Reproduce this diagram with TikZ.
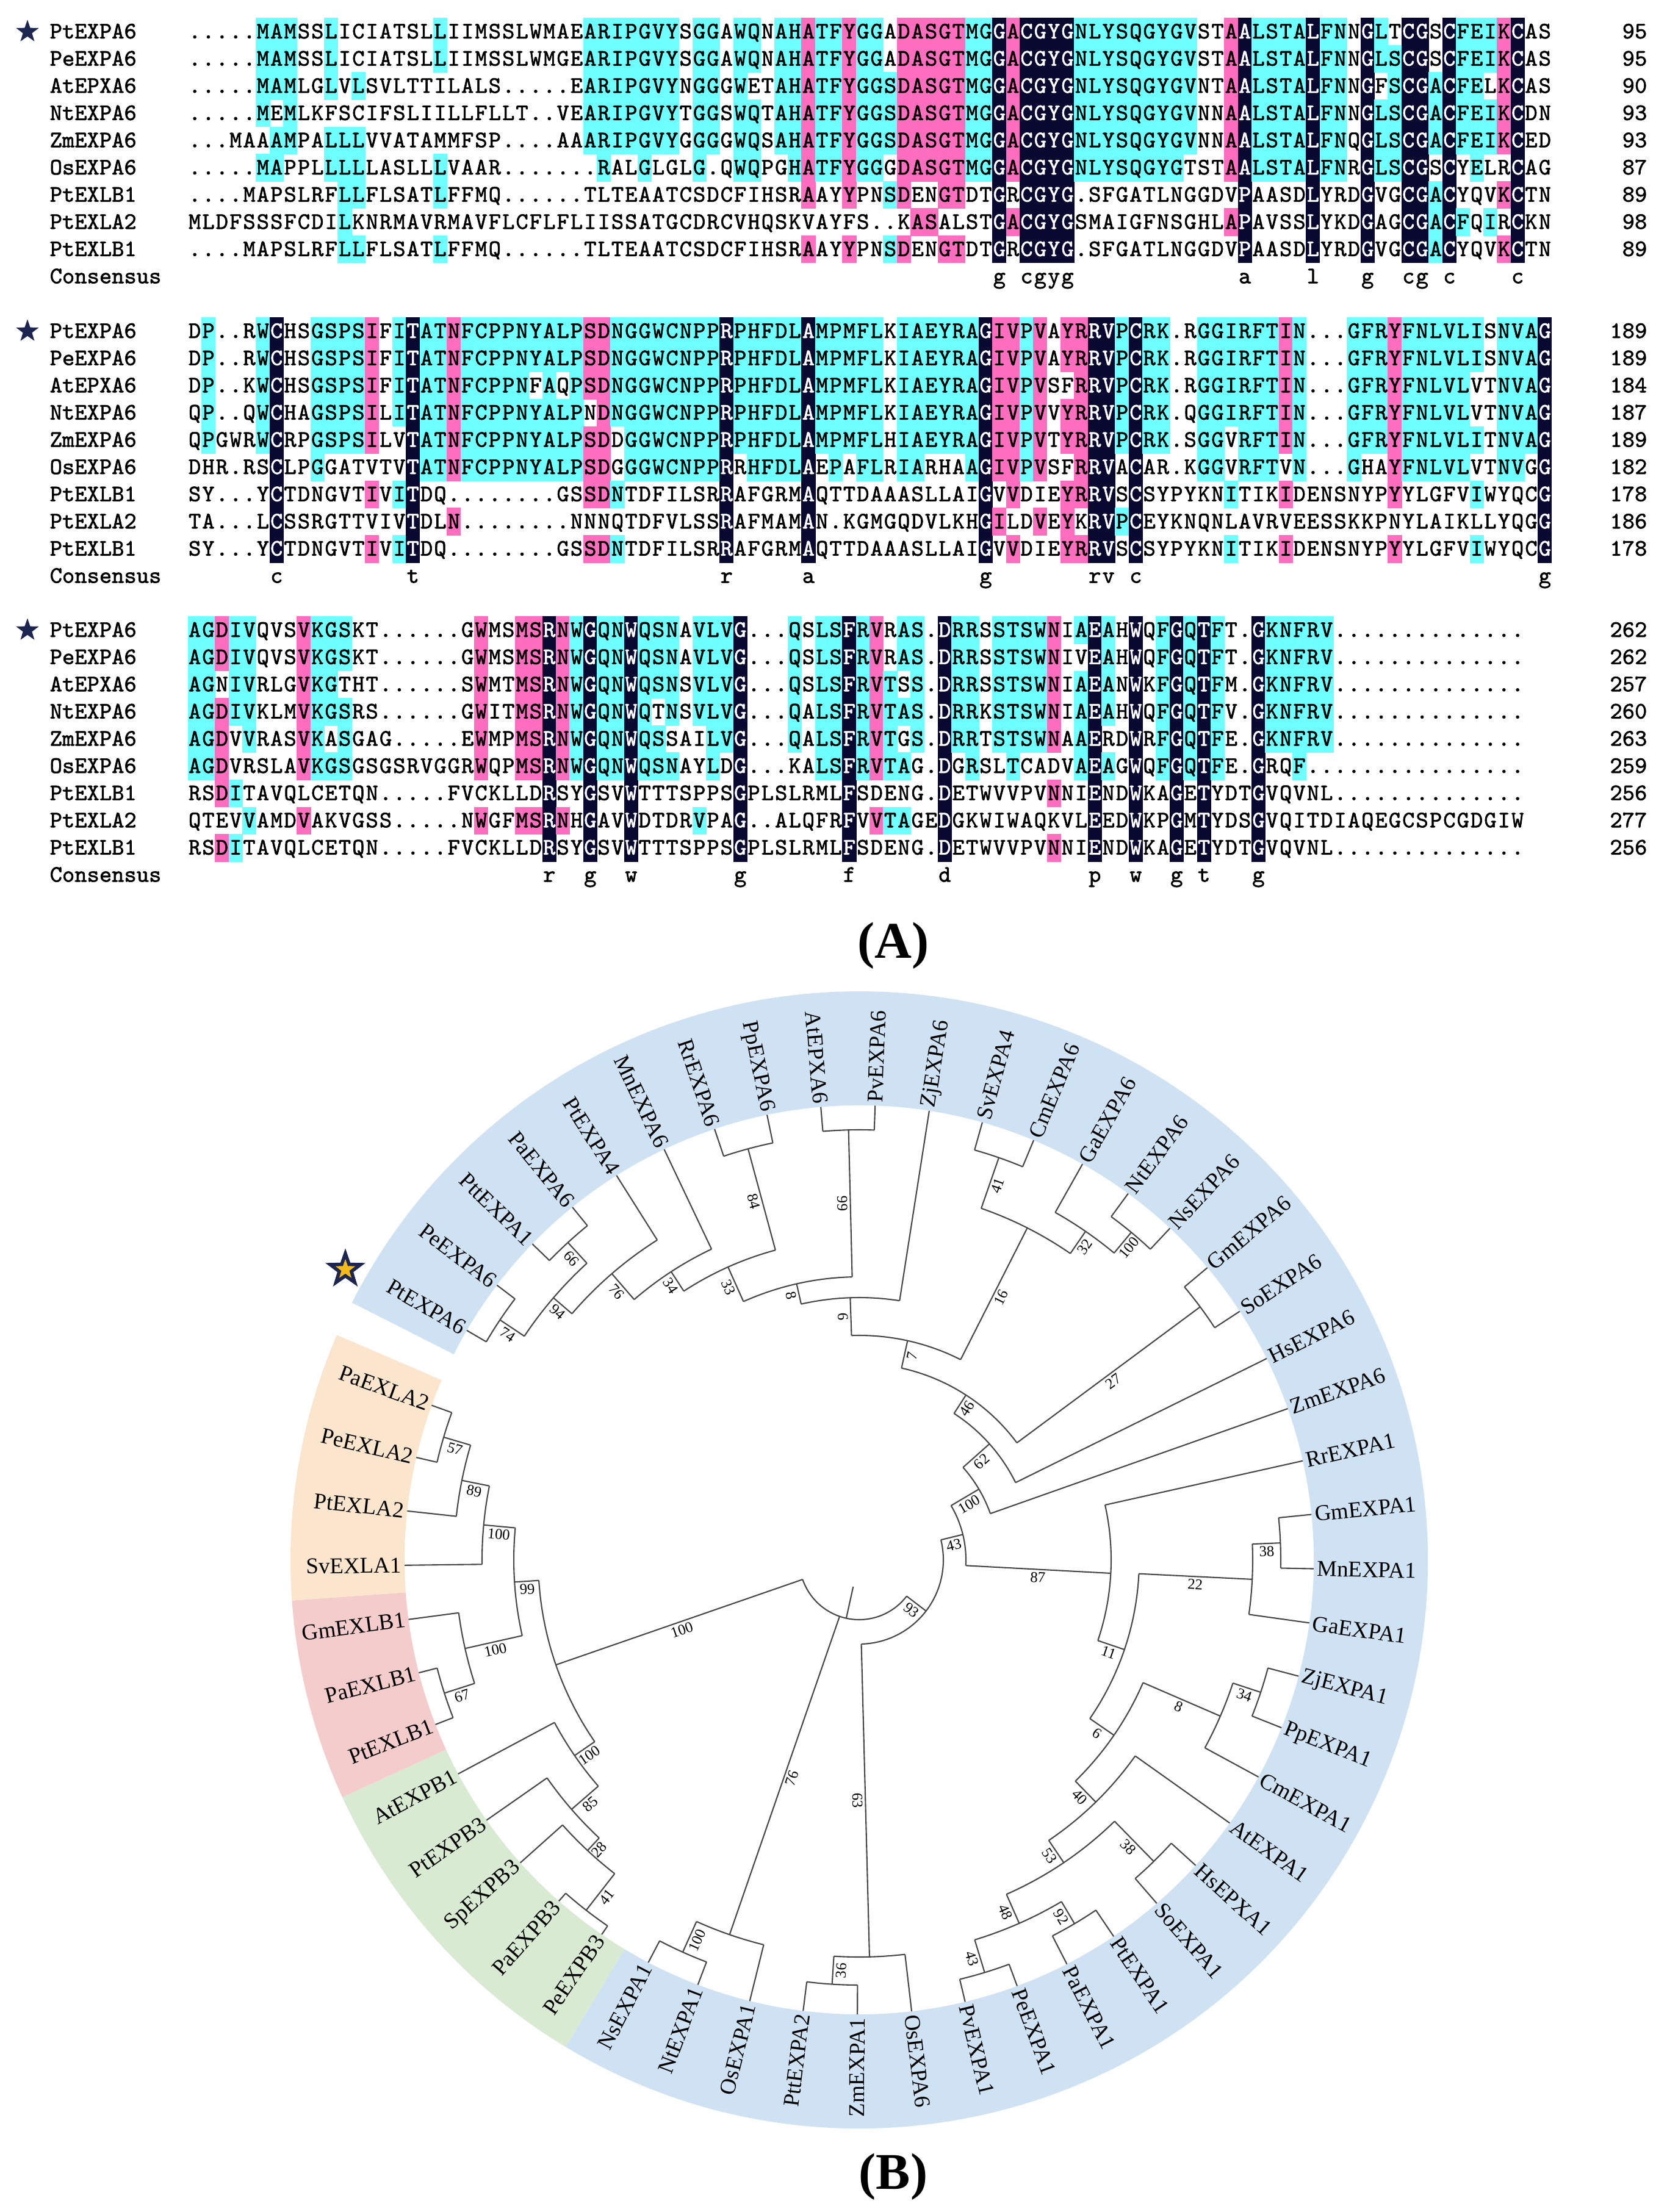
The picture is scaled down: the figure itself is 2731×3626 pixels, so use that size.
\documentclass[tikz,border=0pt]{standalone}
\usepackage{fontspec}
\setmainfont{Liberation Serif}
\newfontfamily\alnfont{Latin Modern Mono}[FakeBold=1.6]
\usetikzlibrary{shapes.geometric}

\definecolor{cyanhl}{RGB}{110,255,255}
\definecolor{pinkhl}{RGB}{255,110,190}
\definecolor{navyhl}{RGB}{8,8,48}
\definecolor{starnavy}{RGB}{28,38,80}
\definecolor{stargold}{RGB}{246,186,24}
\definecolor{bandblue}{RGB}{207,226,243}
\definecolor{bandgreen}{RGB}{217,234,211}
\definecolor{bandpink}{RGB}{244,204,204}
\definecolor{bandorange}{RGB}{252,229,205}

% alignment grid, in reference pixels
\newcommand\seqx{308}
\newcommand\cw{22.35}
\newcommand\rh{44.6}

\newcommand\AlnFill[4]{%
  \fill[#4] ({\seqx+(#1-1)*\cw-0.4},{#3+(#2-1.5)*\rh-0.4}) rectangle ({\seqx+#1*\cw+0.4},{#3+(#2-0.5)*\rh+0.4});}
\newcommand\AlnChar[5]{%
  \node[res, text=#4] at ({\seqx+(#1-0.5)*\cw},{#3+(#2-1)*\rh+11}) {#5};}

\ExplSyntaxOn
\int_new:N \l_aln_cnt_int
\tl_new:N \l_aln_col_tl
\tl_new:N \l_aln_cons_tl
\prop_new:N \l_aln_cons_prop
\int_step_inline:nn {9}
  { \tl_new:c { l_aln_row_#1_tl } \tl_new:c { l_aln_ch_#1_tl } }

\NewDocumentCommand \AlnRows { m }
  {
    \int_zero:N \l_aln_cnt_int
    \clist_map_inline:nn {#1}
      {
        \int_incr:N \l_aln_cnt_int
        \tl_set:cx { l_aln_row_ \int_use:N \l_aln_cnt_int _tl } { \tl_to_str:n {##1} }
      }
  }

% #1 top row y, #2 columns, #3 consensus col=letter
\NewDocumentCommand \AlnBlock { m m m }
  {
    \prop_set_from_keyval:Nn \l_aln_cons_prop {#3}
    \int_step_variable:nNn {#2} \l_aln_col_tl
      {
        \int_step_inline:nn {9}
          {
            \tl_set:cx { l_aln_ch_##1_tl }
              { \exp_args:Nc \str_item:Nn { l_aln_row_##1_tl } { \l_aln_col_tl } }
          }
        \exp_args:NNV \prop_get:NnNTF \l_aln_cons_prop \l_aln_col_tl \l_aln_cons_tl
          {
            \int_step_inline:nn {9}
              {
                \AlnFill { \l_aln_col_tl } {##1} {#1} {navyhl}
                \AlnChar { \l_aln_col_tl } {##1} {#1} {white} { \tl_use:c { l_aln_ch_##1_tl } }
              }
            \AlnChar { \l_aln_col_tl } {10} {#1} {black} { \l_aln_cons_tl }
          }
          {
            \int_step_inline:nn {9}
              {
                \int_zero:N \l_aln_cnt_int
                \str_if_eq:eeF { \tl_use:c { l_aln_ch_##1_tl } } { . }
                  {
                    \int_step_inline:nn {9}
                      {
                        \str_if_eq:eeT { \tl_use:c { l_aln_ch_##1_tl } } { \tl_use:c { l_aln_ch_####1_tl } }
                          { \int_incr:N \l_aln_cnt_int }
                      }
                  }
                \int_compare:nNnTF \l_aln_cnt_int > 6
                  { \AlnFill { \l_aln_col_tl } {##1} {#1} {pinkhl} }
                  {
                    \int_compare:nNnT \l_aln_cnt_int > 4
                      { \AlnFill { \l_aln_col_tl } {##1} {#1} {cyanhl} }
                  }
                \AlnChar { \l_aln_col_tl } {##1} {#1} {black} { \tl_use:c { l_aln_ch_##1_tl } }
              }
          }
      }
  }
\ExplSyntaxOff

% tree helpers
\newcommand\lf[1]{\csname lf#1\endcsname}
\newcommand\nd[1]{\csname nd#1\endcsname}
\newcommand\band[3]{\fill[#1] (#2:745) arc[start angle=#2, end angle=#3, radius=745] -- (#3:932) arc[start angle=#3, end angle=#2, radius=932] -- cycle;}
% #1 name, #2 radius, #3 parent radius, #4 bootstrap, #5/#6 child angle/radius, #7/#8 child angle/radius
\newcommand\clade[8]{%
  \pgfmathsetmacro\cang{(#5+#7)/2}%
  \expandafter\xdef\csname nd#1\endcsname{\cang}%
  \draw[branch] (#5:#2) arc[start angle=#5, end angle=#7, radius=#2];
  \draw[branch] (#5:#2) -- (#5:#6);
  \draw[branch] (#7:#2) -- (#7:#8);
  \pgfmathsetmacro\brad{(#2+#3)/2}%
  \pgfmathsetmacro\brot{cos(\cang)>=0 ? \cang : \cang-180}%
  \node[boot, rotate=\brot] (bs#1) at (\cang:\brad) {#4};
}

\begin{document}
\begin{tikzpicture}[x=0.1mm, y=-0.1mm,
  res/.style={font=\alnfont\fontsize{11}{12}\selectfont, inner sep=0pt, anchor=base},
  seqname/.style={res, anchor=base west},
  seqnum/.style={res, anchor=base east},
  alnstar/.style={star, star points=5, star point ratio=2.5, fill=starnavy, inner sep=0pt, minimum size=3.9mm},
  branch/.style={line width=0.6pt, draw=black!72},
  boot/.style={font=\fontsize{7}{8}\selectfont, inner sep=1.2pt, anchor=north},
  leaf/.style={font=\fontsize{10.5}{12}\selectfont, inner sep=0pt},
  panel/.style={font=\bfseries\fontsize{24}{28}\selectfont, inner sep=0pt},
]
\useasboundingbox (0,0) rectangle (2731,3626);
\fill[white] (0,0) rectangle (2731,3626);

% (A) alignment
\AlnRows{
  .....MAMSSLICIATSLLIIMSSLWMAEARIPGVYSGGAWQNAHATFYGGADASGTMGGACGYGNLYSQGYGVSTAALSTALFNNGLTCGSCFEIKCAS,
  .....MAMSSLICIATSLLIIMSSLWMGEARIPGVYSGGAWQNAHATFYGGADASGTMGGACGYGNLYSQGYGVSTAALSTALFNNGLSCGSCFEIKCAS,
  .....MAMLGLVLSVLTTILALS.....EARIPGVYNGGGWETAHATFYGGSDASGTMGGACGYGNLYSQGYGVNTAALSTALFNNGFSCGACFELKCAS,
  .....MEMLKFSCIFSLIILLFLLT..VEARIPGVYTGGSWQTAHATFYGGSDASGTMGGACGYGNLYSQGYGVNNAALSTALFNNGLSCGACFEIKCDN,
  ...MAAAMPALLLVVATAMMFSP....AAARIPGVYGGGGWQSAHATFYGGSDASGTMGGACGYGNLYSQGYGVNNAALSTALFNQGLSCGACFEIKCED,
  .....MAPPLLLLLASLLLVAAR.......RALGLGLG.QWQPGHATFYGGGDASGTMGGACGYGNLYSQGYGTSTAALSTALFNRGLSCGSCYELRCAG,
  ....MAPSLRFLLFLSATLFFMQ......TLTEAATCSDCFIHSRAAYYPNSDENGTDTGRCGYG.SFGATLNGGDVPAASDLYRDGVGCGACYQVKCTN,
  MLDFSSSFCDILKNRMAVRMAVFLCFLFLIISSATGCDRCVHQSKVAYFS..KASALSTGACGYGSMAIGFNSGHLAPAVSSLYKDGAGCGACFQIRCKN,
  ....MAPSLRFLLFLSATLFFMQ......TLTEAATCSDCFIHSRAAYYPNSDENGTDTGRCGYG.SFGATLNGGDVPAASDLYRDGVGCGACYQVKCTN}
\AlnBlock{52}{100}{60=g,62=c,63=g,64=y,65=g,78=a,83=l,87=g,90=c,91=g,93=c,98=c}

\AlnRows{
  DP..RWCHSGSPSIFITATNFCPPNYALPSDNGGWCNPPRPHFDLAMPMFLKIAEYRAGIVPVAYRRVPCRK.RGGIRFTIN...GFRYFNLVLISNVAG,
  DP..RWCHSGSPSIFITATNFCPPNYALPSDNGGWCNPPRPHFDLAMPMFLKIAEYRAGIVPVAYRRVPCRK.RGGIRFTIN...GFRYFNLVLISNVAG,
  DP..KWCHSGSPSIFITATNFCPPNFAQPSDNGGWCNPPRPHFDLAMPMFLKIAEYRAGIVPVSFRRVPCRK.RGGIRFTIN...GFRYFNLVLVTNVAG,
  QP..QWCHAGSPSILITATNFCPPNYALPNDNGGWCNPPRPHFDLAMPMFLKIAEYRAGIVPVVYRRVPCRK.QGGIRFTIN...GFRYFNLVLVTNVAG,
  QPGWRWCRPGSPSILVTATNFCPPNYALPSDDGGWCNPPRPHFDLAMPMFLHIAEYRAGIVPVTYRRVPCRK.SGGVRFTIN...GFRYFNLVLITNVAG,
  DHR.RSCLPGGATVTVTATNFCPPNYALPSDGGGWCNPPRRHFDLAEPAFLRIARHAAGIVPVSFRRVACAR.KGGVRFTVN...GHAYFNLVLVTNVGG,
  SY...YCTDNGVTIVITDQ........GSSDNTDFILSRRAFGRMAQTTDAAASLLAIGVVDIEYRRVSCSYPYKNITIKIDENSNYPYYLGFVIWYQCG,
  TA...LCSSRGTTVIVTDLN........NNNQTDFVLSSRAFMAMAN.KGMGQDVLKHGILDVEYKRVPCEYKNQNLAVRVEESSKKPNYLAIKLLYQGG,
  SY...YCTDNGVTIVITDQ........GSSDNTDFILSRRAFGRMAQTTDAAASLLAIGVVDIEYRRVSCSYPYKNITIKIDENSNYPYYLGFVIWYQCG}
\AlnBlock{543}{100}{7=c,17=t,40=r,46=a,59=g,67=r,68=v,70=c,100=g}

\AlnRows{
  AGDIVQVSVKGSKT......GWMSMSRNWGQNWQSNAVLVG...QSLSFRVRAS.DRRSSTSWNIAEAHWQFGQTFT.GKNFRV..............,
  AGDIVQVSVKGSKT......GWMSMSRNWGQNWQSNAVLVG...QSLSFRVRAS.DRRSSTSWNIVEAHWQFGQTFT.GKNFRV..............,
  AGNIVRLGVKGTHT......SWMTMSRNWGQNWQSNSVLVG...QSLSFRVTSS.DRRSSTSWNIAEANWKFGQTFM.GKNFRV..............,
  AGDIVKLMVKGSRS......GWITMSRNWGQNWQTNSVLVG...QALSFRVTAS.DRRKSTSWNIAEAHWQFGQTFV.GKNFRV..............,
  AGDVVRASVKASGAG.....EWMPMSRNWGQNWQSSAILVG...QALSFRVTGS.DRRTSTSWNAAERDWRFGQTFE.GKNFRV..............,
  AGDVRSLAVKGSGSGSRVGGRWQPMSRNWGQNWQSNAYLDG...KALSFRVTAG.DGRSLTCADVAEAGWQFGQTFE.GRQF................,
  RSDITAVQLCETQN.....FVCKLLDRSYGSVWTTTSPPSGPLSLRMLFSDENG.DETWVVPVNNIENDWKAGETYDTGVQVNL..............,
  QTEVVAMDVAKVGSS.....NWGFMSRNHGAVWDTDRVPAG..ALQFRFVVTAGEDGKWIWAQKVLEEDWKPGMTYDSGVQITDIAQEGCSPCGDGIW,
  RSDITAVQLCETQN.....FVCKLLDRSYGSVWTTTSPPSGPLSLRMLFSDENG.DETWVVPVNNIENDWKAGETYDTGVQVNL..............}
\AlnBlock{1033}{98}{27=r,30=g,33=w,41=g,49=f,56=d,67=p,70=w,73=g,75=t,79=g}

\foreach \by/\nums [count=\b] in {52/{95,95,90,93,93,87,89,98,89},
    543/{189,189,184,187,189,182,178,186,178},
    1033/{262,262,257,260,263,259,256,277,256}}{
  \node[alnstar] (star\b) at (45,\by) {};
  \foreach \nm [count=\ri] in {PtEXPA6,PeEXPA6,AtEPXA6,NtEXPA6,ZmEXPA6,OsEXPA6,PtEXLB1,PtEXLA2,PtEXLB1,Consensus}
    \node[seqname] (name\b-\ri) at (81,{\by+(\ri-1)*\rh+11}) {\nm};
  \foreach \n [count=\ri] in \nums
    \node[seqnum] (num\b-\ri) at (2700,{\by+(\ri-1)*\rh+11}) {\n};
}
\node[panel] (panelA) at (1464,1550) {(A)};

% (B) circular tree
\begin{scope}[shift={(1408,2557)}, y=0.1mm]
  \band{bandblue}{153.1}{-121.07}
  \band{bandgreen}{-121.07}{-155.34}
  \band{bandpink}{-155.34}{-175.9}
  \band{bandorange}{-175.9}{-203.3}

  \foreach \i in {1,...,52}{%
    \pgfmathsetmacro\lfa{149.67-6.854*(\i-1)}%
    \expandafter\xdef\csname lf\i\endcsname{\lfa}}

  % EXPA6 side
  \clade{A74}{708}{660}{74}{\lf{1}}{745}{\lf{2}}{745}
  \clade{A66}{706}{660}{66}{\lf{3}}{745}{\lf{4}}{745}
  \clade{A94}{660}{620}{94}{\nd{A74}}{708}{\nd{A66}}{706}
  \clade{A76}{620}{564}{76}{\nd{A94}}{660}{\lf{5}}{745}
  \clade{A34}{564}{526}{34}{\nd{A76}}{620}{\lf{6}}{745}
  \clade{A84}{698}{526}{84}{\lf{7}}{745}{\lf{8}}{745}
  \clade{A33}{526}{464}{33}{\nd{A34}}{564}{\nd{A84}}{698}
  \clade{A99}{705}{464}{99}{\lf{9}}{745}{\lf{10}}{745}
  \clade{A8}{464}{430}{8}{\nd{A33}}{526}{\nd{A99}}{705}
  \clade{A6}{430}{368}{6}{\nd{A8}}{464}{\lf{11}}{745}
  \clade{A41}{698}{610}{41}{\lf{12}}{745}{\lf{13}}{745}
  \clade{A100}{698}{654}{100}{\lf{15}}{745}{\lf{16}}{745}
  \clade{A32}{654}{610}{32}{\lf{14}}{745}{\nd{A100}}{698}
  \clade{A16}{610}{368}{16}{\nd{A41}}{698}{\nd{A32}}{654}
  \clade{A7}{368}{322}{7}{\nd{A6}}{430}{\nd{A16}}{610}
  \clade{A27}{696}{322}{27}{\lf{17}}{745}{\lf{18}}{745}
  \clade{A46}{322}{286}{46}{\nd{A7}}{368}{\nd{A27}}{696}
  \clade{A62}{286}{228}{62}{\nd{A46}}{322}{\lf{19}}{745}
  \clade{A100b}{228}{175}{100}{\nd{A62}}{286}{\lf{20}}{745}
  % EXPA1 side
  \clade{B38}{691}{645}{38}{\lf{22}}{745}{\lf{23}}{745}
  \clade{B22}{645}{459}{22}{\nd{B38}}{691}{\lf{24}}{745}
  \clade{B34}{693}{645}{34}{\lf{25}}{745}{\lf{26}}{745}
  \clade{B8}{645}{507}{8}{\nd{B34}}{693}{\lf{27}}{745}
  \clade{B38b}{691}{599}{38}{\lf{29}}{745}{\lf{30}}{745}
  \clade{B92}{693}{651}{92}{\lf{31}}{745}{\lf{32}}{745}
  \clade{B43}{707}{651}{43}{\lf{33}}{745}{\lf{34}}{745}
  \clade{B48}{651}{599}{48}{\nd{B92}}{693}{\nd{B43}}{707}
  \clade{B53}{599}{555}{53}{\nd{B38b}}{691}{\nd{B48}}{651}
  \clade{B40}{555}{507}{40}{\lf{28}}{745}{\nd{B53}}{599}
  \clade{B6}{507}{459}{6}{\nd{B8}}{645}{\nd{B40}}{555}
  \clade{B11}{459}{413}{11}{\nd{B22}}{645}{\nd{B6}}{507}
  \clade{B87}{413}{175}{87}{\lf{21}}{745}{\nd{B11}}{459}
  \clade{A43}{175}{138}{43}{\nd{A100b}}{228}{\nd{B87}}{413}
  \clade{C36}{697}{651}{36}{\lf{36}}{745}{\lf{37}}{745}
  \clade{C63}{651}{138}{63}{\lf{35}}{745}{\nd{C36}}{697}
  \clade{N93}{138}{98}{93}{\nd{A43}}{175}{\nd{C63}}{651}
  \clade{C100}{705}{650}{100}{\lf{39}}{745}{\lf{40}}{745}
  \clade{C76}{650}{98}{76}{\lf{38}}{745}{\nd{C100}}{705}
  % EXPB, EXLB, EXLA
  \clade{D41}{728}{652}{41}{\lf{41}}{745}{\lf{42}}{745}
  \clade{D28}{652}{624}{28}{\lf{43}}{745}{\nd{D41}}{728}
  \clade{D85}{624}{566}{85}{\lf{44}}{745}{\nd{D28}}{652}
  \clade{D100}{566}{526}{100}{\lf{45}}{745}{\nd{D85}}{624}
  \clade{E67}{714}{662}{67}{\lf{46}}{745}{\lf{47}}{745}
  \clade{E100}{662}{566}{100}{\nd{E67}}{714}{\lf{48}}{745}
  \clade{F57}{710}{664}{57}{\lf{51}}{745}{\lf{52}}{745}
  \clade{F89}{664}{618}{89}{\lf{50}}{745}{\nd{F57}}{710}
  \clade{F100}{618}{566}{100}{\lf{49}}{745}{\nd{F89}}{664}
  \clade{G99}{566}{526}{99}{\nd{E100}}{662}{\nd{F100}}{618}
  \clade{G100}{526}{98}{100}{\nd{D100}}{566}{\nd{G99}}{566}
  % root
  \draw[branch] (\nd{G100}:98) arc[start angle=\nd{G100}, end angle=\nd{N93}, radius=98];
  \draw[branch] (\nd{G100}:98) -- (\nd{G100}:526);
  \draw[branch] (\nd{C76}:98) -- (\nd{C76}:650);
  \draw[branch] (\nd{N93}:98) -- (\nd{N93}:138);
  \pgfmathsetmacro\rootang{(\nd{G100}+\nd{C76}+\nd{N93})/3}
  \draw[branch] (\rootang:45) -- (\rootang:98);

  \foreach \nm [count=\i] in {PtEXPA6,PeEXPA6,PttEXPA1,PaEXPA6,PtEXPA4,MnEXPA6,RrEXPA6,PpEXPA6,
      AtEPXA6,PvEXPA6,ZjEXPA6,SvEXPA4,CmEXPA6,GaEXPA6,NtEXPA6,NsEXPA6,GmEXPA6,SoEXPA6,HsEXPA6,
      ZmEXPA6,RrEXPA1,GmEXPA1,MnEXPA1,GaEXPA1,ZjEXPA1,PpEXPA1,CmEXPA1,AtEXPA1,HsEPXA1,SoEXPA1,
      PtEXPA1,PaEXPA1,PeEXPA1,PvEXPA1,OsEXPA6,ZmEXPA1,PttEXPA2,OsEXPA1,NtEXPA1,NsEXPA1,
      PeEXPB3,PaEXPB3,SpEXPB3,PtEXPB3,AtEXPB1,PtEXLB1,PaEXLB1,GmEXLB1,SvEXLA1,PtEXLA2,PeEXLA2,PaEXLA2}{%
    \pgfmathsetmacro\la{\lf{\i}}%
    \pgfmathsetmacro\lrot{cos(\la)>=0 ? \la : \la-180}%
    \pgfmathtruncatemacro\lside{cos(\la)>=0 ? 1 : 0}%
    \ifnum\lside=1 \def\lanch{west}\else\def\lanch{east}\fi
    \node[leaf, rotate=\lrot, anchor=\lanch] (leaf\i) at (\la:750) {\nm};
  }
\end{scope}
\node[star, star points=5, star point ratio=2.5, fill=stargold, draw=starnavy, line width=1.6pt,
  minimum size=5.2mm, inner sep=0pt] (treestar) at (566,2081) {};
\node[panel] (panelB) at (1464,3568) {(B)};
\end{tikzpicture}
\end{document}
